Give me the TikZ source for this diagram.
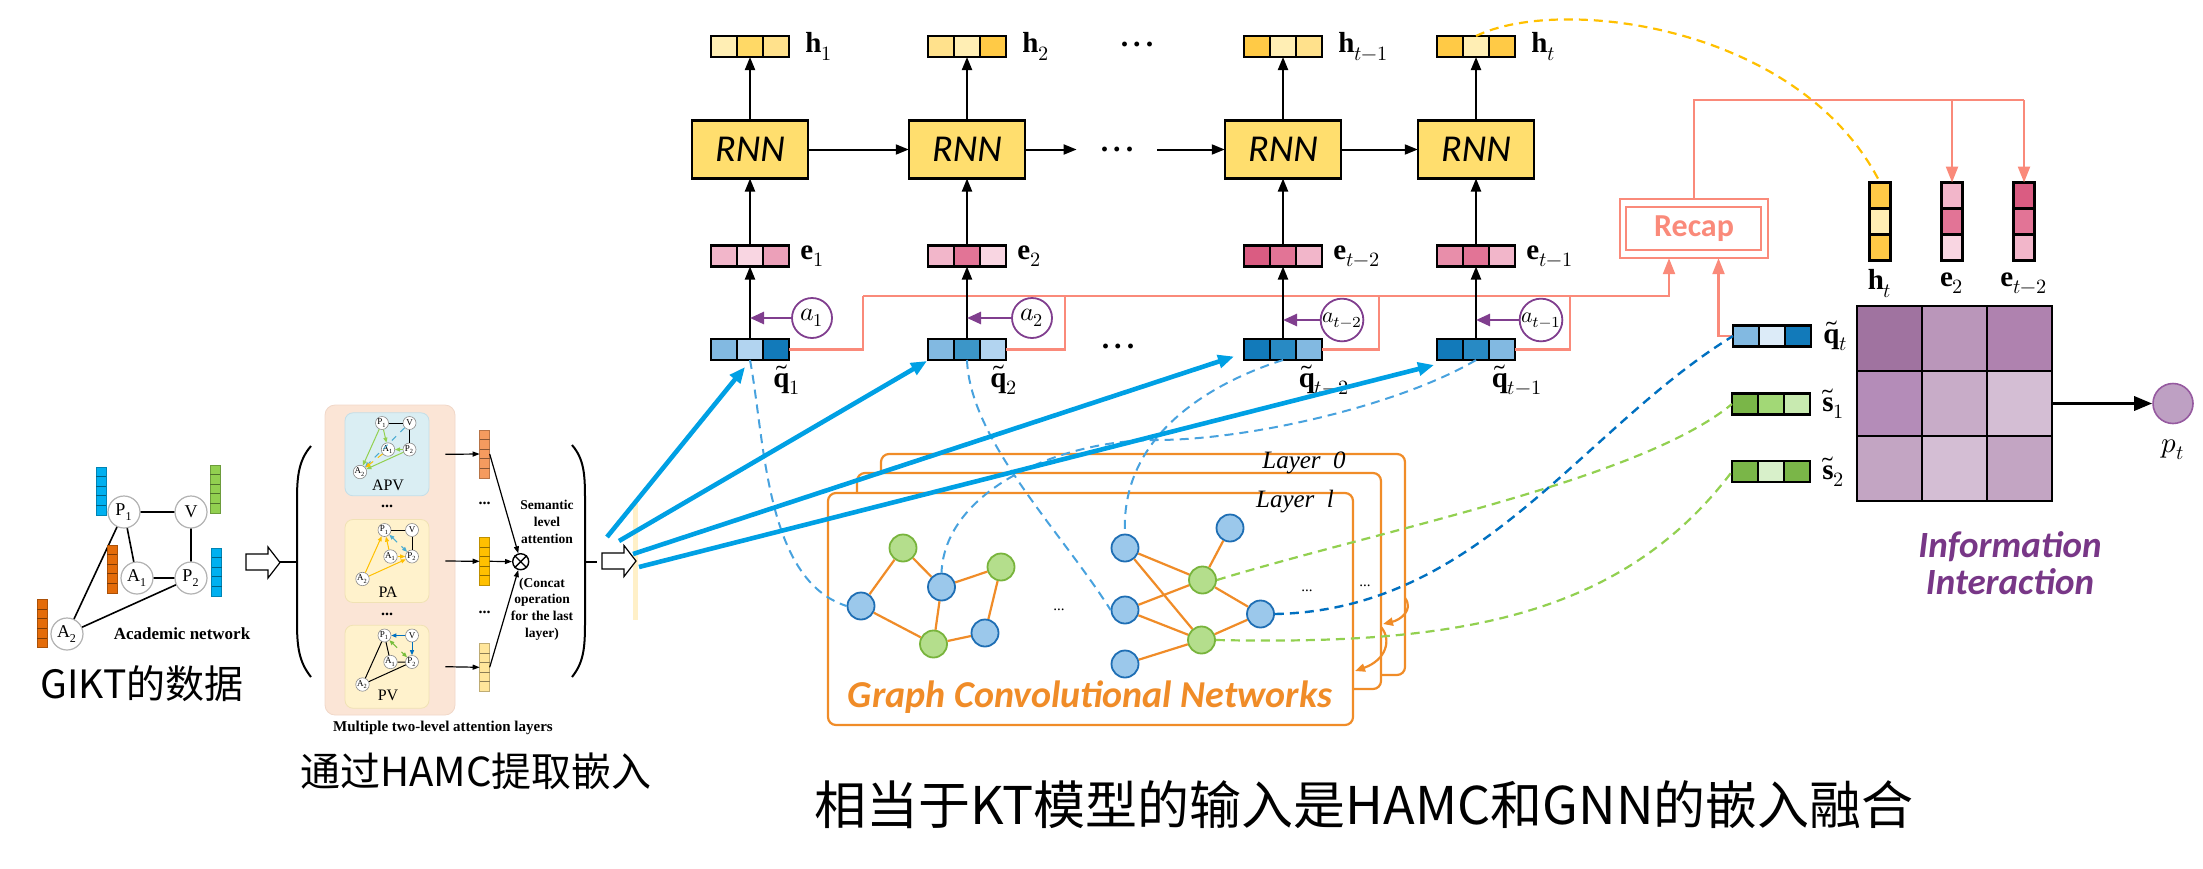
\documentclass[tikz,border=0pt]{standalone}
\usepackage{fontspec}
\usepackage{unicode-math}
\setmainfont{Liberation Serif}
\newfontfamily\carlito{Carlito}
\newfontfamily\cjk{Noto Sans CJK SC}
\usetikzlibrary{arrows.meta,calc}
\definecolor{rnnfill}{RGB}{255,222,110}
\definecolor{hPale}{RGB}{255,238,180}
\definecolor{hMid}{RGB}{255,217,102}
\definecolor{hLt}{RGB}{255,225,140}
\definecolor{hDeep}{RGB}{255,202,70}
\definecolor{eLt}{RGB}{242,182,202}
\definecolor{ePale}{RGB}{249,214,226}
\definecolor{eMid}{RGB}{236,160,185}
\definecolor{eDark}{RGB}{226,116,150}
\definecolor{eDeep}{RGB}{218,92,130}
\definecolor{eMidB}{RGB}{232,142,170}
\definecolor{qLt}{RGB}{130,185,225}
\definecolor{qPale}{RGB}{178,212,240}
\definecolor{qDeep}{RGB}{18,122,186}
\definecolor{qMid}{RGB}{60,150,200}
\definecolor{qMidB}{RGB}{40,138,196}
\definecolor{qVpale}{RGB}{220,235,248}
\definecolor{sDeep}{RGB}{122,182,72}
\definecolor{sMid}{RGB}{162,216,118}
\definecolor{sPale}{RGB}{200,234,176}
\definecolor{sVpale}{RGB}{216,240,202}
\definecolor{salm}{RGB}{250,138,122}
\definecolor{apurple}{RGB}{128,62,142}
\definecolor{ipurple}{RGB}{120,55,135}
\definecolor{cyanb}{RGB}{0,160,228}
\definecolor{lblue}{RGB}{72,162,222}
\definecolor{dblue}{RGB}{0,112,192}
\definecolor{lgreen}{RGB}{146,208,80}
\definecolor{gold}{RGB}{255,192,0}
\definecolor{gcnor}{RGB}{240,140,40}
\definecolor{nblue}{RGB}{155,200,235}
\definecolor{nblueb}{RGB}{30,110,180}
\definecolor{ngreen}{RGB}{180,222,140}
\definecolor{ngreenb}{RGB}{120,180,60}
\definecolor{mA}{RGB}{160,115,160}
\definecolor{mB}{RGB}{186,150,186}
\definecolor{mC}{RGB}{175,130,175}
\definecolor{mD}{RGB}{180,140,184}
\definecolor{mE}{RGB}{200,172,200}
\definecolor{mF}{RGB}{212,190,212}
\definecolor{mG}{RGB}{195,165,195}
\definecolor{ptfill}{RGB}{190,160,195}
\definecolor{ptdraw}{RGB}{150,90,160}
\definecolor{panel}{RGB}{251,229,214}
\definecolor{panelb}{RGB}{240,215,200}
\definecolor{apv}{RGB}{218,238,243}
\definecolor{apvb}{RGB}{195,222,232}
\definecolor{pa}{RGB}{255,242,204}
\definecolor{pab}{RGB}{240,226,180}
\definecolor{gbl}{RGB}{0,176,240}
\definecolor{ggr}{RGB}{146,208,80}
\definecolor{gor}{RGB}{228,108,10}
\definecolor{bOr}{RGB}{245,155,95}
\definecolor{bYe}{RGB}{255,192,0}
\definecolor{bPa}{RGB}{255,230,155}
\definecolor{stripc}{RGB}{255,240,200}
\definecolor{tblue}{RGB}{75,172,210}
\definecolor{tgreen}{RGB}{120,190,60}

\newcommand{\hvec}[6]{%
 \fill[#4] ({#2-39},{#3-10.5}) rectangle ({#2-13},{#3+10.5});
 \fill[#5] ({#2-13},{#3-10.5}) rectangle ({#2+13},{#3+10.5});
 \fill[#6] ({#2+13},{#3-10.5}) rectangle ({#2+39},{#3+10.5});
 \draw[line width=1.1pt] ({#2-13},{#3-10.5}) -- ({#2-13},{#3+10.5}) ({#2+13},{#3-10.5}) -- ({#2+13},{#3+10.5});
 \node[vecbox] (#1) at (#2,#3) {};}
\newcommand{\vvec}[6]{%
 \fill[#4] ({#2-10.5},{#3-39}) rectangle ({#2+10.5},{#3-13});
 \fill[#5] ({#2-10.5},{#3-13}) rectangle ({#2+10.5},{#3+13});
 \fill[#6] ({#2-10.5},{#3+13}) rectangle ({#2+10.5},{#3+39});
 \draw[line width=1.1pt] ({#2-10.5},{#3-13}) -- ({#2+10.5},{#3-13}) ({#2-10.5},{#3+13}) -- ({#2+10.5},{#3+13});
 \node[vvecbox] (#1) at (#2,#3) {};}
\newcommand{\gbar}[4]{%
 \node[draw=#4!75!black,line width=0.4pt,fill=#4,minimum width=5pt,minimum height=24pt,inner sep=0pt,outer sep=0pt,anchor=north] (#1) at (#2,#3) {};
 \foreach \k in {1,2,3,4}{\draw[#4!55!black,line width=0.4pt] ({#2-5},{#3+9.6*\k}) -- ({#2+5},{#3+9.6*\k});}}
\newcommand{\tnodes}[3]{%
 \node[tn] (#1P1) at (#2,#3) {P\textsubscript{1}};
 \node[tn] (#1V) at ({#2+27.5},#3) {V};
 \node[tn] (#1A1) at ({#2+6},{#3+26.5}) {A\textsubscript{1}};
 \node[tn] (#1P2) at ({#2+27.5},{#3+26.5}) {P\textsubscript{2}};
 \node[tn] (#1A2) at ({#2-22},{#3+49}) {A\textsubscript{2}};}

\begin{document}
\begin{tikzpicture}[x=0.5pt,y=-0.5pt,
 vecbox/.style={draw,line width=1.1pt,minimum width=39pt,minimum height=10.5pt,inner sep=0pt,outer sep=0pt},
 vvecbox/.style={draw,line width=1.1pt,minimum width=10.5pt,minimum height=39pt,inner sep=0pt,outer sep=0pt},
 rnn/.style={draw,line width=1.1pt,fill=rnnfill,minimum width=58.25pt,minimum height=29pt,inner sep=0pt,outer sep=0pt,font=\carlito\itshape\fontsize{19}{20}\selectfont},
 arr/.style={line width=1pt,-{Triangle[length=6.5pt,width=5pt]}},
 lab/.style={inner sep=0pt,font=\fontsize{14.5}{16}\selectfont},
 acirc/.style={circle,draw=apurple,line width=0.9pt,minimum size=20pt,inner sep=0pt,font=\fontsize{13}{14}\selectfont},
 parr/.style={draw=apurple,line width=1.3pt,-{Triangle[length=7pt,width=6pt]}},
 sline/.style={draw=salm,line width=1.2pt},
 sarr/.style={sline,-{Triangle[length=8pt,width=6pt]}},
 barr/.style={draw=cyanb,line width=2.3pt,-{Triangle[length=8pt,width=6.5pt]}},
 ldash/.style={draw=lblue,line width=1pt,dash pattern=on 4.5pt off 3pt},
 ddash/.style={draw=dblue,line width=1.2pt,dash pattern=on 4.5pt off 3pt},
 gdash/.style={draw=lgreen,line width=1.1pt,dash pattern=on 4.5pt off 3pt},
 ydash/.style={draw=gold,line width=1.1pt,dash pattern=on 4.5pt off 3pt},
 gcnrect/.style={draw=gcnor,line width=1.1pt,fill=white,rounded corners=4pt},
 gnb/.style={circle,draw=nblueb,fill=nblue,line width=0.9pt,minimum size=13.5pt,inner sep=0pt},
 gng/.style={circle,draw=ngreenb,fill=ngreen,line width=0.9pt,minimum size=13.5pt,inner sep=0pt},
 gedge/.style={draw=gcnor,line width=1.1pt},
 mcell/.style={draw,line width=1pt,minimum size=32.5pt,inner sep=0pt,outer sep=0pt},
 gn/.style={circle,draw=black!30,fill=white,line width=0.6pt,minimum size=16pt,inner sep=0pt,font=\fontsize{9}{9}\selectfont},
 tn/.style={circle,draw=black!45,fill=white,line width=0.3pt,minimum size=6.5pt,inner sep=0pt,font=\fontsize{4.5}{4.5}\selectfont},
 tarr/.style={line width=0.6pt,-{Triangle[length=3.5pt,width=2.5pt]}},
 tiny/.style={line width=0.5pt},
 tinyarr/.style={line width=0.5pt,-{Triangle[length=2.5pt,width=2pt]}},
 blockarr/.style={draw,fill=white,line width=0.6pt},
 bdots/.style={font=\bfseries\fontsize{15}{15}\selectfont,inner sep=0pt}
]
\useasboundingbox (0,0) rectangle (2203,868);

% ===== GIKT data graph =====
\node[gn] (gP1) at (124,512) {P\textsubscript{1}};
\node[gn] (gV) at (191,512) {V};
\node[gn] (gA1) at (137,578) {A\textsubscript{1}};
\node[gn] (gP2) at (191,578) {P\textsubscript{2}};
\node[gn] (gA2) at (67,634) {A\textsubscript{2}};
\draw[line width=0.8pt] (gP1) -- (gV) (gP1) -- (gA1) (gV) -- (gP2) (gA1) -- (gP2) (gP1) -- (gA2) (gA2) -- (gP2);
\gbar{gb1}{101}{467}{gbl}
\gbar{gb2}{215}{465}{ggr}
\gbar{gb3}{112}{545}{gor}
\gbar{gb4}{216.5}{548}{gbl}
\gbar{gb5}{42}{599.5}{gor}
\node[font=\bfseries\fontsize{8.5}{9}\selectfont] (acad) at (182,634) {Academic network};
\node[font=\cjk\fontsize{19.5}{20}\selectfont] (t1) at (142,684) {GIKT的数据};
\draw[blockarr] (246,554) -- (268,554) -- (268,547) -- (280,562.5) -- (268,578) -- (268,570) -- (246,570) -- cycle;

% ===== HAMC panel =====
\draw[line width=1pt] (280,562) -- (297,562);
\draw[line width=1pt] (311,446) .. controls (299,460) and (297,475) .. (297,500) -- (297,622) .. controls (297,647) and (299,662) .. (311,677);
\node[draw=panelb,fill=panel,rounded corners=5pt,minimum width=65pt,minimum height=155pt,inner sep=0pt] (panel) at (390,560) {};
\node[draw=apvb,fill=apv,rounded corners=4pt,minimum width=42pt,minimum height=41.5pt,inner sep=0pt] (boxAPV) at (387,454.3) {};
\node[draw=pab,fill=pa,rounded corners=4pt,minimum width=42pt,minimum height=41.5pt,inner sep=0pt] (boxPA) at (387,561) {};
\node[draw=pab,fill=pa,rounded corners=4pt,minimum width=42pt,minimum height=41.5pt,inner sep=0pt] (boxPV) at (387,666.7) {};
\node[font=\bfseries\fontsize{8}{8}\selectfont] (hd1) at (387,506) {...};
\node[font=\bfseries\fontsize{8}{8}\selectfont] (hd2) at (387,614) {...};
% APV
\tnodes{a}{382}{423}
\draw[tiny] (aP1) -- (aV) (aV) -- (aP2);
\draw[tinyarr,draw=lgreen] (aP1) -- (aA1);
\draw[tinyarr,draw=lgreen] (aP1) -- (aA2);
\draw[tinyarr,draw=lgreen] (aP2) -- (aA1);
\draw[tinyarr,draw=lgreen] (aP2) -- (aA2);
\draw[tinyarr,draw=tblue,dashed] (aV) -- (aA2);
\draw[tinyarr,draw=gold,dashed] (aA1) -- (aA2);
\node[font=\fontsize{8}{8}\selectfont] (lAPV) at (388,485) {APV};
% PA
\tnodes{b}{384.5}{530}
\draw[tiny] (bP1) -- (bV) (bV) -- (bP2);
\draw[tinyarr,draw=gold] (bA2) -- (bP1);
\draw[tinyarr,draw=gold] (bA2) -- (bP2);
\draw[tinyarr,draw=gold] (bA1) -- (bP1);
\draw[tinyarr,draw=gold] (bA1) -- (bP2);
\draw[tiny,draw=tblue,dashed,{Triangle[length=2.5pt,width=2pt]}-{Triangle[length=2.5pt,width=2pt]}] (bP1) -- (bP2);
\node[font=\fontsize{8}{8}\selectfont] (lPA) at (388,592.5) {PA};
% PV
\tnodes{c}{384.5}{635.5}
\draw[tinyarr,draw=dblue] (cV) -- (cP1);
\draw[tinyarr,draw=dblue] (cV) -- (cP2);
\draw[tiny,draw=tgreen,dashed,{Triangle[length=2.5pt,width=2pt]}-{Triangle[length=2.5pt,width=2pt]}] (cP1) -- (cP2);
\draw[tiny] (cP1) -- (cA1) (cA1) -- (cP2) (cP1) -- (cA2) (cA2) -- (cP2);
\node[font=\fontsize{8}{8}\selectfont] (lPV) at (388,695.5) {PV};
% bars
\gbar{bO}{484.7}{430}{bOr}
\gbar{bY}{484.7}{537.3}{bYe}
\gbar{bP}{484.7}{643.3}{bPa}
\node[font=\bfseries\fontsize{8}{8}\selectfont] (bd1) at (484.7,503) {...};
\node[font=\bfseries\fontsize{8}{8}\selectfont] (bd2) at (484.7,612) {...};
\draw[tarr] ($(boxAPV.east)+(16,0)$) -- (bO.west);
\draw[tarr] ($(boxPA.east)+(16,0)$) -- (bY.west);
\draw[tarr] ($(boxPV.east)+(16,0)$) -- (bP.west);
\node[circle,draw,line width=0.7pt,minimum size=8pt,inner sep=0pt] (ot) at (520.7,561.7) {};
\draw[line width=0.7pt] (ot.north east) -- (ot.south west) (ot.north west) -- (ot.south east);
\draw[tarr] (bO.east) -- (ot);
\draw[tarr] (bY.east) -- (ot);
\draw[tarr] (bP.east) -- (ot);
\node[align=center,font=\bfseries\fontsize{6.75}{8.35}\selectfont] (sem) at (547,521.7) {Semantic\\level\\attention};
\node[align=center,font=\bfseries\fontsize{6.75}{8.35}\selectfont] (cct) at (542,609) {(Concat\\operation\\for the last\\layer)};
\draw[line width=1pt] (572,445) .. controls (584,459) and (585,474) .. (585,499) -- (585,622) .. controls (585,647) and (584,662) .. (572,677);
\draw[line width=1pt] (585,561.5) -- (597,561.5);
\node[font=\bfseries\fontsize{7.5}{8}\selectfont] (mtl) at (443,727.5) {Multiple two-level attention layers};
\node[font=\cjk\fontsize{20}{20}\selectfont] (t2) at (476,771) {通过HAMC提取嵌入};
\fill[stripc] (633,503) rectangle (638,620);
\draw[blockarr] (602,553) -- (624,553) -- (624,545.5) -- (636,561) -- (624,576.5) -- (624,569) -- (602,569) -- cycle;

% ===== GCN =====
\draw[gcnrect] (881,454) rectangle (1405,675);
\draw[gcnrect] (857,473) rectangle (1381,689);
\draw[gcnrect] (828,493) rectangle (1353,725);
\node[font=\itshape\fontsize{12.5}{13}\selectfont] (ly0) at (1304,463) {Layer\ \ 0};
\node[font=\itshape\fontsize{12.5}{13}\selectfont] (lyl) at (1295,502) {Layer\ \ l};
\node[gng] (gG1) at (903,548) {};
\node[gnb] (gB1) at (861,606) {};
\node[gnb] (gB2) at (941.5,587) {};
\node[gng] (gG2) at (1001,567) {};
\node[gng] (gG3) at (933.5,644) {};
\node[gnb] (gB3) at (985,633) {};
\draw[gedge] (gB1) -- (gG1) (gB1) -- (gG3) (gG1) -- (gB2) (gB2) -- (gG2) (gB2) -- (gG3) (gG2) -- (gB3) (gG3) -- (gB3);
\node[gnb] (gR1) at (1125,548) {};
\node[gnb] (gR2) at (1125,610) {};
\node[gnb] (gR3) at (1125,664) {};
\node[gnb] (gR4) at (1230,528) {};
\node[gng] (gG1r) at (1202.5,580) {};
\node[gng] (gG2r) at (1201.5,640) {};
\node[gnb] (gR5) at (1260.5,614) {};
\draw[gedge] (gR1) -- (gG1r) (gR1) -- (gG2r) (gR2) -- (gG1r) (gR2) -- (gG2r) (gR3) -- (gG2r) (gR4) -- (gG1r) (gG1r) -- (gR5) (gG2r) -- (gR5);
\node[font=\fontsize{7.5}{7.5}\selectfont] (gd1) at (1059,610) {...};
\node[font=\fontsize{7.5}{7.5}\selectfont] (gd2) at (1307,591) {...};
\node[font=\fontsize{7.5}{7.5}\selectfont] (gd3) at (1365,586) {...};
\draw[gcnor,line width=1.1pt,-{Triangle[length=5pt,width=4pt]}] (1405,598) .. controls (1414,610) and (1400,620) .. (1383,624);
\draw[gcnor,line width=1.1pt,-{Triangle[length=5pt,width=4pt]}] (1381,627) .. controls (1392,640) and (1386,660) .. (1355,671);
\node[text=gcnor,font=\carlito\bfseries\itshape\fontsize{19}{19}\selectfont] (gcnt) at (1090,697) {Graph Convolutional Networks};

% ===== chain =====
\node[rnn] (r1) at (750,149.5) {RNN};
\node[rnn] (r2) at (967,149.5) {RNN};
\node[rnn] (r3) at (1283,149.5) {RNN};
\node[rnn] (r4) at (1476,149.5) {RNN};
\hvec{h1}{750}{46.5}{hPale}{hMid}{hLt}
\hvec{h2}{967}{46.5}{hLt}{hPale}{hDeep}
\hvec{h3}{1283}{46.5}{hDeep}{hPale}{hLt}
\hvec{h4}{1476}{46.5}{hDeep}{hPale}{hDeep}
\hvec{e1}{750}{256}{eLt}{ePale}{eMid}
\hvec{e2}{967}{256}{eLt}{eDark}{ePale}
\hvec{e3}{1283}{256}{eDeep}{eDark}{eLt}
\hvec{e4}{1476}{256}{eMidB}{eDark}{eLt}
\hvec{q1}{750}{349.5}{qLt}{qPale}{qDeep}
\hvec{q2}{967}{349.5}{qLt}{qMid}{qPale}
\hvec{q3}{1283}{349.5}{qDeep}{qMidB}{qLt}
\hvec{q4}{1476}{349.5}{qDeep}{qMidB}{qLt}
\node[lab,anchor=west] (lh1) at ($(h1.east)+(16,0)$) {$\mathbf{h}_1$};
\node[lab,anchor=west] (lh2) at ($(h2.east)+(16,0)$) {$\mathbf{h}_2$};
\node[lab,anchor=west] (lh3) at ($(h3.east)+(16,0)$) {$\mathbf{h}_{t-1}$};
\node[lab,anchor=west] (lh4) at ($(h4.east)+(16,0)$) {$\mathbf{h}_t$};
\node[lab,anchor=west] (le1) at ($(e1.east)+(11,0)$) {$\mathbf{e}_1$};
\node[lab,anchor=west] (le2) at ($(e2.east)+(11,0)$) {$\mathbf{e}_2$};
\node[lab,anchor=west] (le3) at ($(e3.east)+(11,0)$) {$\mathbf{e}_{t-2}$};
\node[lab,anchor=west] (le4) at ($(e4.east)+(11,0)$) {$\mathbf{e}_{t-1}$};
\node[lab] (lq1) at ($(q1.south east)+(-2,20)$) {$\widetilde{\mathbf{q}}_1$};
\node[lab] (lq2) at ($(q2.south east)+(-2,20)$) {$\widetilde{\mathbf{q}}_2$};
\node[lab] (lq3) at ($(q3.south east)+(2,20)$) {$\widetilde{\mathbf{q}}_{t-2}$};
\node[lab] (lq4) at ($(q4.south east)+(2,20)$) {$\widetilde{\mathbf{q}}_{t-1}$};
\node[bdots] (td) at (1137,44) {.\,.\,.};
\node[bdots,minimum width=40pt] (md) at (1117,149.5) {.\,.\,.};
\node[bdots] (bdt) at (1118,346) {.\,.\,.};

% salmon recap network
\node[draw=salm,line width=1.2pt,fill=white,minimum width=74pt,minimum height=29.5pt,inner sep=0pt,outer sep=0pt,text=salm,font=\carlito\bfseries\fontsize{16}{16}\selectfont] (recap) at (1694,228.7) {Recap};
\draw[sline] ($(recap.south west)+(6,-8)$) rectangle ($(recap.north east)+(-7,8)$);
\coordinate (sj0) at (863,296);
\coordinate (sj) at (1669,296);
\draw[sline] (q1.east) -| (sj0);
\draw[sline] (q2.east) -| (1065,296);
\draw[sline] (q3.east) -| (1379,296);
\draw[sline] (q4.east) -| (1570,296);
\draw[sarr] (sj0) -- (sj) -- (sj |- recap.south);

% info interaction side
\hvec{qt}{1772}{336}{qLt}{qVpale}{qDeep}
\hvec{s1}{1771}{404}{sDeep}{sMid}{sPale}
\hvec{s2}{1771}{471.5}{sDeep}{sVpale}{sDeep}
\node[lab,anchor=west] (lqt) at ($(qt.east)+(12,0)$) {$\widetilde{\mathbf{q}}_t$};
\node[lab,anchor=west] (ls1) at ($(s1.east)+(12,0)$) {$\widetilde{\mathbf{s}}_1$};
\node[lab,anchor=west] (ls2) at ($(s2.east)+(12,0)$) {$\widetilde{\mathbf{s}}_2$};
\coordinate (rj) at (1718.5,336);
\draw[sarr] (qt.west) -- (rj) -- (rj |- recap.south);
\vvec{htv}{1880}{221.5}{hDeep}{hPale}{hDeep}
\vvec{e2v}{1952}{221.5}{eLt}{eDark}{ePale}
\vvec{etv}{2024}{221.5}{eDeep}{eDark}{eLt}
\coordinate (top) at (1694,100);
\draw[sline] (recap.north) -- (top) -- (etv.north |- top);
\draw[sarr] (e2v.north |- top) -- (e2v.north);
\draw[sarr] (etv.north |- top) -- (etv.north);
\node[lab] (lhtv) at ($(htv.south)+(0,23)$) {$\mathbf{h}_t$};
\node[lab] (le2v) at ($(e2v.south)+(0,23)$) {$\mathbf{e}_2$};
\node[lab] (letv) at ($(etv.south)+(0,23)$) {$\mathbf{e}_{t-2}$};
\node[mcell,fill=mA] (m11) at (1889.5,338.5) {};
\node[mcell,fill=mB] (m12) at (1954.5,338.5) {};
\node[mcell,fill=mC] (m13) at (2019.5,338.5) {};
\node[mcell,fill=mD] (m21) at (1889.5,403.5) {};
\node[mcell,fill=mE] (m22) at (1954.5,403.5) {};
\node[mcell,fill=mF] (m23) at (2019.5,403.5) {};
\node[mcell,fill=mG] (m31) at (1889.5,468.5) {};
\node[mcell,fill=mF] (m32) at (1954.5,468.5) {};
\node[mcell,fill=mG] (m33) at (2019.5,468.5) {};
\node[circle,draw=ptdraw,fill=ptfill,line width=0.8pt,minimum size=20pt,inner sep=0pt] (pt) at (2173,403.5) {};
\draw[line width=1.6pt,-{Triangle[length=9pt,width=7pt]}] (m23.east) -- (pt);
\node[lab] (lpt) at (2173,450) {$p_t$};
\node[align=center,text=ipurple,font=\carlito\bfseries\itshape\fontsize{18.5}{18.5}\selectfont] (info) at (2010,563) {Information\\Interaction};

% black arrows in chain
\draw[arr] (q1.north) -- (e1.south);
\draw[arr] (q2.north) -- (e2.south);
\draw[arr] (q3.north) -- (e3.south);
\draw[arr] (q4.north) -- (e4.south);
\draw[arr] (e1.north) -- (r1.south);
\draw[arr] (e2.north) -- (r2.south);
\draw[arr] (e3.north) -- (r3.south);
\draw[arr] (e4.north) -- (r4.south);
\draw[arr] (r1.north) -- (h1.south);
\draw[arr] (r2.north) -- (h2.south);
\draw[arr] (r3.north) -- (h3.south);
\draw[arr] (r4.north) -- (h4.south);
\draw[arr] (r1.east) -- (r2.west);
\draw[arr] (r2.east) -- (md.west);
\draw[arr] (md.east) -- (r3.west);
\draw[arr] (r3.east) -- (r4.west);

% attention circles
\node[acirc] (a1) at (812,318) {$a_1$};
\node[acirc] (a2) at (1032,318) {$a_2$};
\node[acirc,font=\fontsize{11}{12}\selectfont] (a3) at (1342,320) {$a_{t-2}$};
\node[acirc,font=\fontsize{11}{12}\selectfont] (a4) at (1541,320) {$a_{t-1}$};
\draw[parr] (a1.west) -- (a1.west -| q1.north);
\draw[parr] (a2.west) -- (a2.west -| q2.north);
\draw[parr] (a3.west) -- (a3.west -| q3.north);
\draw[parr] (a4.west) -- (a4.west -| q4.north);

% dashed connectors
\draw[ldash] (q1.south) .. controls (765,440) and (765,580) .. (gB1.west);
\draw[ldash] (q2.south) .. controls (970,440) and (1060,530) .. (gR2.west);
\draw[ldash] (q3.south) .. controls (1220,380) and (1120,430) .. (gR1.north);
\draw[ldash] (q4.south) .. controls (1400,405) and (1250,440) .. (1156,440) .. controls (1060,440) and (945,490) .. (gB2.north);
\draw[ddash] (gR5.east) .. controls (1480,610) and (1580,430) .. (qt.west);
\draw[gdash] (gG1r.east) .. controls (1380,530) and (1640,480) .. (s1.west);
\draw[gdash] (gG2r.east) .. controls (1450,645) and (1620,620) .. (s2.west);
\draw[ydash] (h4.north) .. controls (1560,-5) and (1800,25) .. (htv.north);

% blue arrows
\coordinate (bs1) at (607,537);
\coordinate (bs2) at (619,541);
\coordinate (bs3) at (633,554);
\coordinate (bs4) at (639,567);
\draw[barr] (bs1) -- ($(q1.south)+(-5,7)$);
\draw[barr] (bs2) -- ($(q2.south west)+(-1,1)$);
\draw[barr] (bs3) -- ($(q3.west)+(-10,7)$);
\draw[barr] (bs4) -- ($(q4.south west)+(-3,5)$);

\node[font=\cjk\fontsize{26}{26}\selectfont] (t3) at (1364,805) {相当于KT模型的输入是HAMC和GNN的嵌入融合};
\end{tikzpicture}
\end{document}
